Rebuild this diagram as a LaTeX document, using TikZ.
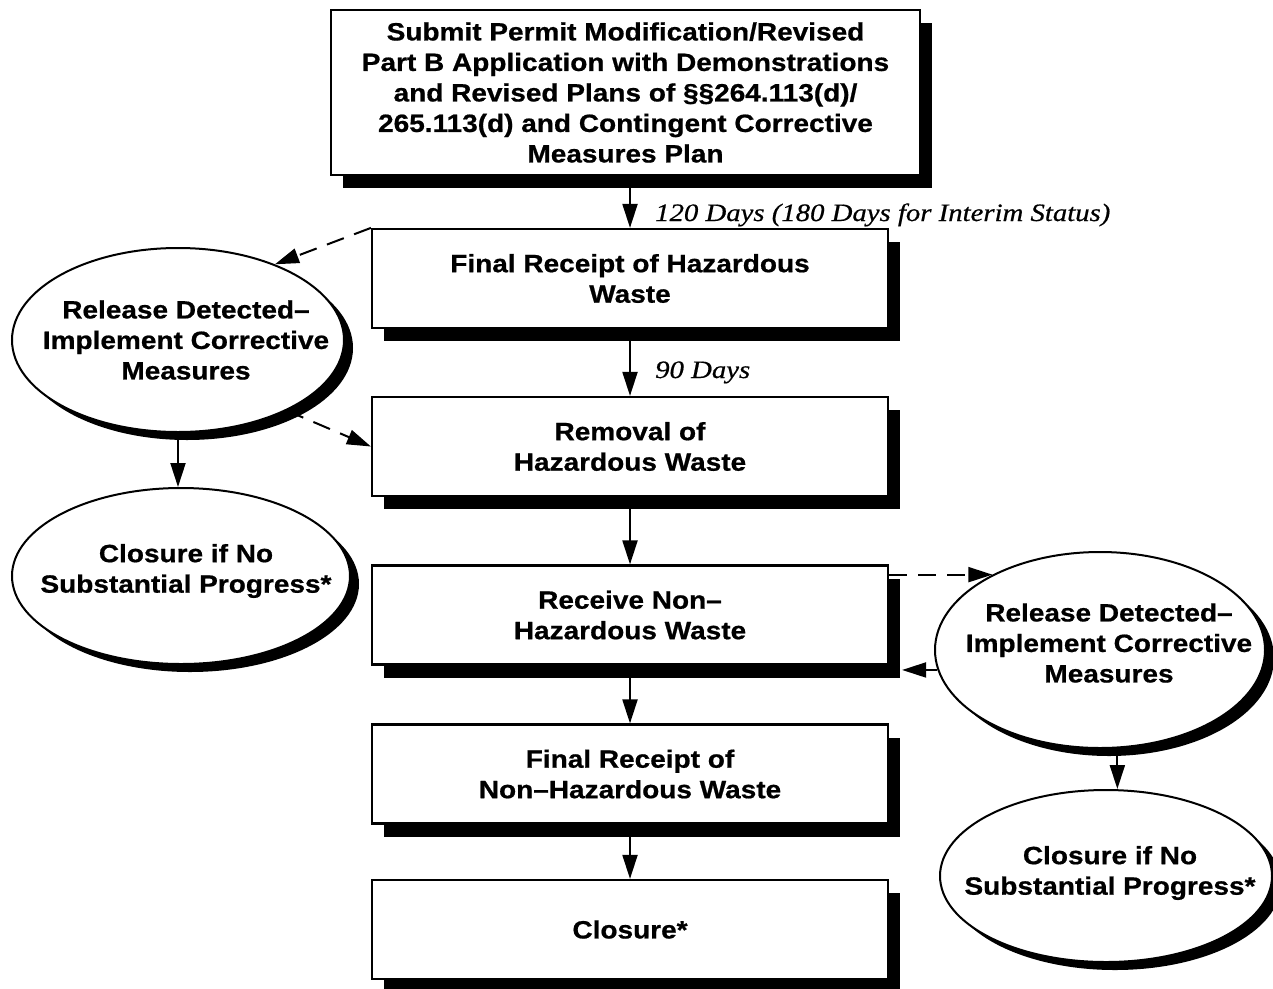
\documentclass[tikz,border=0pt]{standalone}
\usepackage{fontspec}
\setmainfont{Liberation Sans}
\newfontfamily\boxfont{Liberation Sans}[FakeStretch=1.12, BoldFeatures={FakeBold=0.7}]
\newfontfamily\labfont{Liberation Serif}[FakeStretch=1.15, ItalicFeatures={FakeBold=0.6}]
\usetikzlibrary{shapes.geometric,arrows.meta,shadows,calc}
\begin{document}
\begin{tikzpicture}[x=1pt,y=-1pt,
  box/.style={draw, line width=2.2pt, fill=white, rectangle, inner sep=0pt, align=center,
    font=\boxfont\bfseries\fontsize{25}{30.5}\selectfont,
    minimum width=516pt, minimum height=99pt,
    drop shadow={shadow xshift=12pt, shadow yshift=-13pt, fill=black, opacity=1}},
  oval/.style={draw, line width=2pt, fill=white, ellipse, inner sep=0pt,
    drop shadow={shadow xshift=9pt, shadow yshift=-8pt, fill=black, opacity=1}},
  ovaltext/.style={inner sep=0pt, align=center, font=\boxfont\bfseries\fontsize{25}{30.5}\selectfont},
  arr/.style={line width=2pt, -{Triangle[length=24pt,width=15pt]}},
  dsh/.style={arr, dash pattern=on 18pt off 11pt},
  lab/.style={font=\labfont\itshape\fontsize{25}{28}\selectfont, anchor=base west, inner sep=0pt}
]
\fill[white] (0,0) rectangle (1273,988);
\useasboundingbox (0,0) rectangle (1273,988);

% main column
\node[box, minimum width=589pt, minimum height=165pt] (b1) at (625.5,92.5)
  {Submit Permit Modification/Revised\\Part B Application with Demonstrations\\and Revised Plans of §§264.113(d)/\\265.113(d) and Contingent Corrective\\Measures Plan};
\node[box] (b2) at (630,278.5) {Final Receipt of Hazardous\\Waste};
\node[box] (b3) at (630,446.5) {Removal of\\Hazardous Waste};
\node[box] (b4) at (630,615) {Receive Non–\\Hazardous Waste};
\node[box] (b5) at (630,774) {Final Receipt of\\Non–Hazardous Waste};
\node[box] (b6) at (630,929.5) {Closure*};

% ellipses
\node[oval, minimum width=332pt, minimum height=184pt] (L1) at (178,340) {};
\node[ovaltext] (L1t) at (186,340) {Release Detected–\\Implement Corrective\\Measures};
\node[oval, minimum width=338pt, minimum height=176pt] (L2) at (181,576) {};
\node[ovaltext] (L2t) at (186,571) {Closure if No\\Substantial Progress*};
\node[oval, minimum width=330pt, minimum height=196pt] (R1) at (1100,650) {};
\node[ovaltext] (R1t) at (1109,643) {Release Detected–\\Implement Corrective\\Measures};
\node[oval, minimum width=332pt, minimum height=172pt] (R2) at (1106,876) {};
\node[ovaltext] (R2t) at (1110,873) {Closure if No\\Substantial Progress*};

% labels
\node[lab] (t120) at (655,221) {120 Days (180 Days for Interim Status)};
\node[lab] (t90) at (655,378) {90 Days};

% connectors
\draw[arr] (b1.south -| b2.north) -- (b2.north);
\draw[arr] (b2.south) -- (b3.north);
\draw[arr] (b3.south) -- (b4.north);
\draw[arr] (b4.south) -- (b5.north);
\draw[arr] (b5.south) -- (b6.north);
\draw[dsh] (b2.north west) -- (L1.38);
\draw[dsh] (L1.-33) -- (b3.west);
\draw[arr] (L1.south) -- (L1.south |- L2.north);
\draw[dsh] (b4.east |- R1.145) -- (R1.145);
\draw[arr] (R1.187) -- ($(b4.east |- R1.187)+(13,0)$);
\draw[arr] (R1.-80) -- (R1.-80 |- R2.north);
\end{tikzpicture}
\end{document}
